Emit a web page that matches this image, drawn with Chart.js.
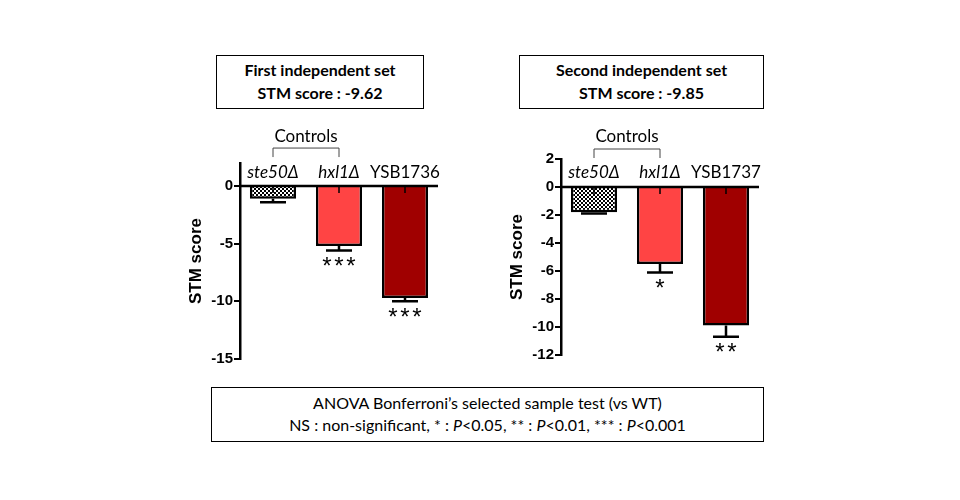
<!DOCTYPE html>
<html>
<head>
<meta charset="utf-8">
<script src="https://cdn.jsdelivr.net/npm/chart.js@4.4.1/dist/chart.umd.min.js"></script>
<style>
  html, body { margin: 0; padding: 0; background: #fff; }
  #stage { position: relative; width: 960px; height: 500px; overflow: hidden; font-family: Lato, "Open Sans", sans-serif; }
  .box { position: absolute; border: 1.5px solid #000; box-sizing: border-box; text-align: center; color: #000; }
  .title { font-weight: bold; font-size: 16px; line-height: 23px; padding-top: 2px; }
  .note { font-size: 16px; line-height: 22px; padding-top: 4px; }
  .cv { position: absolute; }
</style>
</head>
<body>
<div id="stage">
  <div class="box title" style="left:216px;top:55px;width:208px;height:54px">First independent set<br>STM score : -9.62</div>
  <div class="box title" style="left:519px;top:55px;width:245px;height:54px">Second independent set<br>STM score : -9.85</div>
  <div class="box note" style="left:211px;top:387px;width:553px;height:55px">ANOVA Bonferroni’s selected sample test (vs WT)<br>NS : non-significant, * : <i>P</i>&lt;0.05, ** : <i>P</i>&lt;0.01, *** : <i>P</i>&lt;0.001</div>
  <div class="cv" style="left:170px;top:120px;width:280px;height:250px"><canvas id="c1"></canvas></div>
  <div class="cv" style="left:491px;top:120px;width:280px;height:250px"><canvas id="c2"></canvas></div>
</div>
<script>
'use strict';

/* ── data ── */
const cats1 = ['ste50Δ', 'hxl1Δ', 'YSB1736'];
const cats2 = ['ste50Δ', 'hxl1Δ', 'YSB1737'];
const italicCats = [true, true, false];
const vals1 = [-1.1, -5.2, -9.7];
const errs1 = [0.3, 0.4, 0.3];
const stars1 = ['', '***', '***'];
const vals2 = [-1.8, -5.5, -9.9];
const errs2 = [0.1, 0.6, 0.8];
const stars2 = ['', '*', '**'];
const ticks1 = [0, -5, -10, -15];
const ticks2 = [2, 0, -2, -4, -6, -8, -10, -12];
const controlsLabel = 'Controls';

/* ── checker pattern for the first bar ── */
function checker() {
  const p = document.createElement('canvas'); p.width = 4; p.height = 4;
  const g = p.getContext('2d');
  g.fillStyle = '#fff'; g.fillRect(0, 0, 4, 4);
  g.fillStyle = '#000'; g.fillRect(0, 0, 2, 2); g.fillRect(2, 2, 2, 2);
  return document.getElementById('c1').getContext('2d').createPattern(p, 'repeat');
}
const pat = checker();

/* ── decorations: zero line, x ticks, labels, error bars, stars, bracket ── */
const decor = {
  id: 'decor',
  afterDatasetsDraw(chart, args, opt) {
    const { ctx, chartArea: a, scales: { x, y } } = chart;
    const y0 = y.getPixelForValue(0);
    ctx.save();
    ctx.strokeStyle = '#000';
    // error bars + significance stars
    ctx.lineWidth = 2.5;
    opt.vals.forEach((v, i) => {
      const cx = x.getPixelForValue(i);
      const yb = y.getPixelForValue(v), ye = y.getPixelForValue(v - opt.errs[i]);
      ctx.beginPath(); ctx.moveTo(cx, yb); ctx.lineTo(cx, ye);
      ctx.moveTo(cx - 13, ye); ctx.lineTo(cx + 13, ye); ctx.stroke();
      if (opt.stars[i]) {
        ctx.fillStyle = '#000';
        ctx.font = '24px "Liberation Sans"';
        ctx.textAlign = 'center'; ctx.textBaseline = 'top';
        const n = opt.stars[i].length;
        for (let k = 0; k < n; k++) ctx.fillText('*', cx + (k - (n - 1) / 2) * 12, ye + 5);
      }
    });
    // zero line and x ticks
    ctx.lineWidth = 2.5;
    ctx.beginPath(); ctx.moveTo(a.left, y0); ctx.lineTo(a.right, y0); ctx.stroke();
    ctx.lineWidth = 1.5;
    opt.cats.forEach((c, i) => {
      const cx = x.getPixelForValue(i);
      ctx.beginPath(); ctx.moveTo(cx, y0); ctx.lineTo(cx, y0 + 7); ctx.stroke();
    });
    // category labels
    ctx.fillStyle = '#000'; ctx.textAlign = 'center'; ctx.textBaseline = 'middle';
    opt.cats.forEach((c, i) => {
      ctx.font = (italicCats[i] ? 'italic ' : '') + '17px Lato';
      ctx.fillText(c, x.getPixelForValue(i), y0 - 14);
    });
    // controls bracket
    const bx1 = x.getPixelForValue(0), bx2 = x.getPixelForValue(1);
    const top = y0 - 38;
    ctx.strokeStyle = '#444'; ctx.lineWidth = 1;
    ctx.beginPath(); ctx.moveTo(bx1, top + 9); ctx.lineTo(bx1, top); ctx.lineTo(bx2, top); ctx.lineTo(bx2, top + 9); ctx.stroke();
    ctx.font = '17px Lato';
    ctx.fillText(controlsLabel, (bx1 + bx2) / 2, top - 12);
    ctx.restore();
  }
};

function makeChart(id, cats, vals, errs, stars, tickVals, pad) {
  return new Chart(document.getElementById(id), {
    type: 'bar',
    data: {
      labels: cats,
      datasets: [{
        data: vals,
        backgroundColor: [pat, '#FF4444', '#A00000'],
        borderColor: '#000',
        borderWidth: 2.5,
        barPercentage: 0.7,
        categoryPercentage: 1
      }]
    },
    plugins: [decor],
    options: {
      responsive: true,
      maintainAspectRatio: false,
      animation: false,
      layout: { padding: pad },
      plugins: {
        legend: { display: false },
        tooltip: { enabled: false },
        decor: { cats, vals, errs, stars }
      },
      scales: {
        x: { display: false },
        y: {
          min: tickVals.length > 4 ? -12 : -15,
          max: 2,
          afterBuildTicks: s => { s.ticks = tickVals.map(v => ({ value: v })); },
          afterFit: s => { s.width = 56; },
          border: { display: true, color: '#000', width: 2.5 },
          grid: { drawOnChartArea: false, color: '#000', lineWidth: 2, tickLength: 6 },
          ticks: { color: '#000', font: { family: 'Liberation Sans', size: 15, weight: 'bold' }, padding: 1 },
          title: { display: true, text: 'STM score', color: '#000', font: { family: 'Liberation Sans', size: 17, weight: 'bold' }, padding: 2 }
        }
      }
    }
  });
}

makeChart('c1', cats1, vals1, errs1, stars1, ticks1, { left: 14, right: 12, top: 43, bottom: 11 });
makeChart('c2', cats2, vals2, errs2, stars2, ticks2, { left: 14, right: 12, top: 39, bottom: 15 });
</script>
</body>
</html>
